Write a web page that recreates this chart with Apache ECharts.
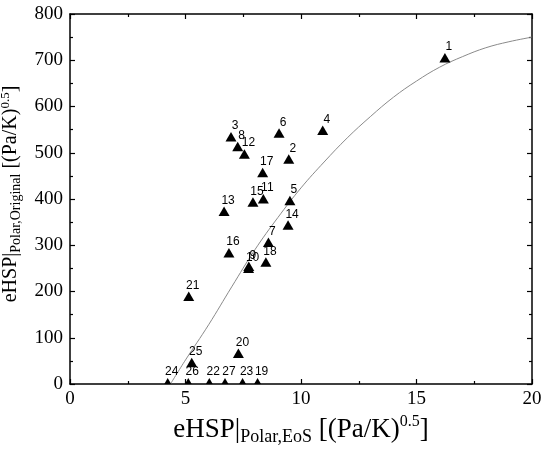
<!DOCTYPE html>
<html>
<head>
<meta charset="utf-8">
<script src="https://cdn.jsdelivr.net/npm/echarts@6/dist/echarts.min.js"></script>
<style>
  html, body { margin: 0; padding: 0; background: #fff; }
  #chart { width: 550px; height: 455px; }
</style>
</head>
<body>
<div id="chart"></div>
<script>
// point labels and coordinates
var pointLabels = ['1', '2', '3', '4', '5', '6', '7', '8', '9', '10', '11', '12', '13', '14',
  '15', '16', '17', '18', '19', '20', '21', '22', '23', '24', '25', '26', '27'];
var eosValues = [16.23, 9.47, 6.97, 10.94, 9.52, 9.05, 8.59, 7.26, 7.74, 7.73, 8.37, 7.55, 6.67, 9.44,
  7.92, 6.88, 8.34, 8.48, 8.12, 7.29, 5.14, 6.03, 7.47, 4.23, 5.27, 5.12, 6.71];
var originalValues = [705, 486, 534, 548, 396, 542, 306, 513, 254, 250, 400, 497, 373, 343,
  393, 283, 457, 263, 2, 66, 189, 2, 2, 2, 46, 2, 2];

// grey fit curve
var curveX = [4.35, 5, 6, 7, 8, 9, 10, 11, 12, 13, 14, 15, 16, 17, 18, 19, 20];
var curveY = [0, 52, 128, 210, 290, 360, 424, 480, 532, 578, 620, 655, 685, 708, 727, 740, 750];

var xTicks = { min: 0, max: 20, interval: 5 };
var yTicks = { min: 0, max: 800, interval: 100 };

var chart = echarts.init(document.getElementById('chart'));

var serif = '"Liberation Serif", "Times New Roman", serif';
var labelFont = '"Liberation Sans Narrow", "Liberation Sans", sans-serif';

function axisBase(pos, ticks, showLabel) {
  return {
    type: 'value',
    position: pos,
    min: ticks.min,
    max: ticks.max,
    interval: ticks.interval,
    splitLine: { show: false },
    axisLine: { show: true, onZero: false, lineStyle: { color: '#000', width: 1.5 } },
    axisTick: { show: true, inside: true, length: 5, lineStyle: { color: '#000', width: 1.2 } },
    minorTick: { show: true, splitNumber: 2, length: 3, lineStyle: { color: '#000', width: 1.2 } },
    axisLabel: { show: showLabel, color: '#000', fontFamily: serif, fontSize: 19 }
  };
}

var xBottom = axisBase('bottom', xTicks, true);
xBottom.axisLabel.margin = 6;
xBottom.name = '{a|eHSP|}{s|Polar,EoS}{a| [(Pa/K)}{p|0.5}{a|]}';
xBottom.nameLocation = 'middle';
xBottom.nameGap = 22;
xBottom.nameTextStyle = {
  color: '#000',
  fontFamily: serif,
  rich: {
    a: { fontSize: 27, fontFamily: serif, color: '#000' },
    s: { fontSize: 18, fontFamily: serif, color: '#000', padding: [15, 0, 0, 0] },
    p: { fontSize: 16, fontFamily: serif, color: '#000', padding: [0, 0, 16, 0] }
  }
};
var xTop = axisBase('top', xTicks, false);

var yLeft = axisBase('left', yTicks, true);
yLeft.axisLabel.margin = 7;
yLeft.name = '{a|eHSP|}{s|Polar,Original}{a| [(Pa/K)}{p|0.5}{a|]}';
yLeft.nameLocation = 'middle';
yLeft.nameGap = 36;
yLeft.nameTextStyle = {
  color: '#000',
  fontFamily: serif,
  padding: [0, 0, 0, 10],
  rich: {
    a: { fontSize: 20, fontFamily: serif, color: '#000' },
    s: { fontSize: 14, fontFamily: serif, color: '#000', padding: [11, 0, 0, 0] },
    p: { fontSize: 13, fontFamily: serif, color: '#000', padding: [0, 0, 12, 0] }
  }
};
var yRight = axisBase('right', yTicks, false);

var option = {
  animation: false,
  backgroundColor: '#fff',
  grid: { left: 70, right: 18, top: 14, bottom: 71, containLabel: false, outerBoundsMode: 'none' },
  xAxis: [xBottom, xTop],
  yAxis: [yLeft, yRight],
  series: [{
    type: 'line',
    smooth: 0.4,
    showSymbol: false,
    data: curveX.map(function (x, i) { return [x, curveY[i]]; }),
    lineStyle: { color: '#8a8a8a', width: 1 },
    z: 1
  }, {
    type: 'custom',
    clip: true,
    z: 2,
    data: eosValues.map(function (x, i) { return [x, originalValues[i]]; }),
    renderItem: function (params, api) {
      var p = api.coord([api.value(0), api.value(1)]);
      return {
        type: 'group',
        children: [{
          type: 'polygon',
          shape: { points: [[p[0], p[1] - 5], [p[0] + 5.5, p[1] + 4.5], [p[0] - 5.5, p[1] + 4.5]] },
          style: { fill: '#000' }
        }, {
          type: 'text',
          x: p[0] + 4,
          y: p[1] - 5,
          style: {
            text: pointLabels[params.dataIndex],
            fill: '#000',
            font: '12px ' + labelFont,
            textAlign: 'center',
            textVerticalAlign: 'bottom'
          }
        }]
      };
    }
  }]
};

chart.setOption(option);
</script>
</body>
</html>
